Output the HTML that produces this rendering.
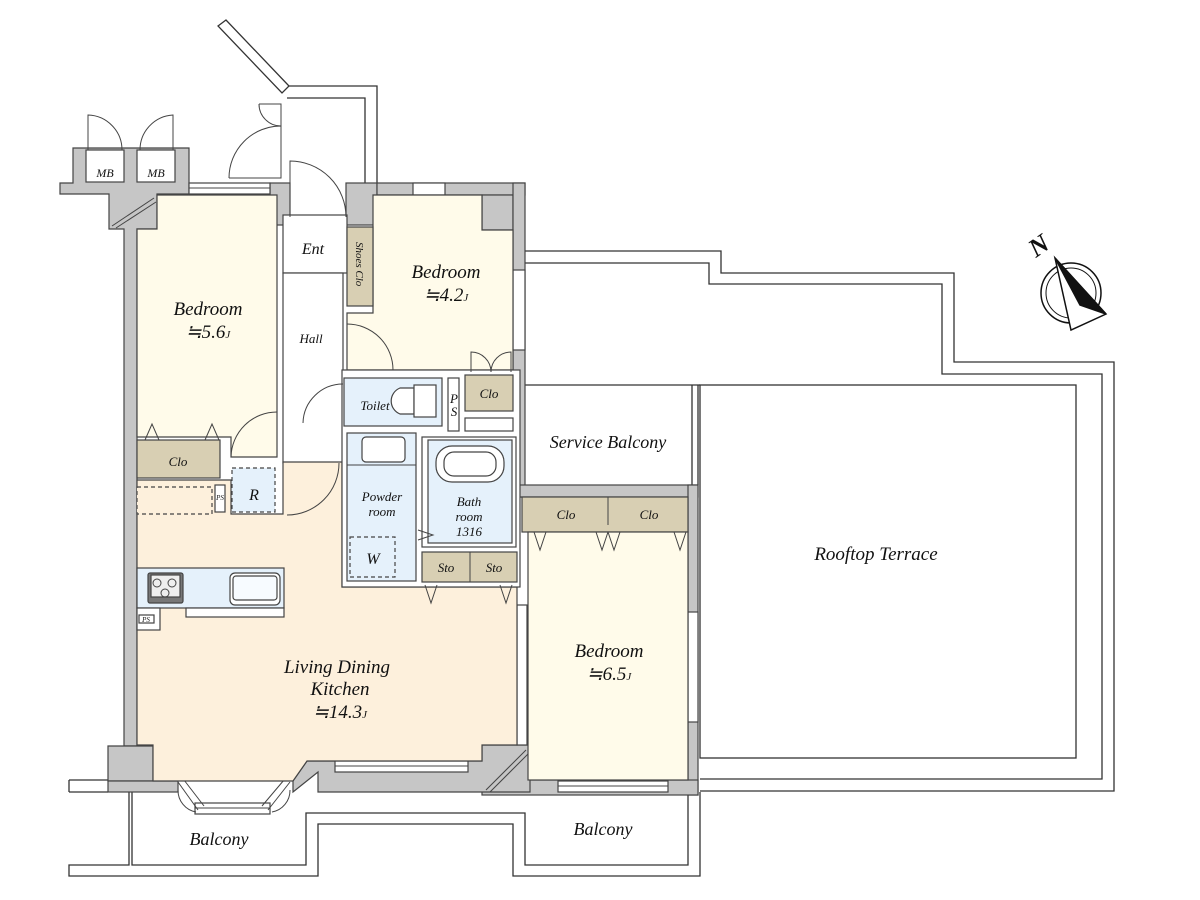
<!DOCTYPE html>
<html><head><meta charset="utf-8"><style>
html,body{margin:0;padding:0;background:#fff;}
svg{display:block;}
text{font-family:"Liberation Serif",serif;font-style:italic;fill:#111;}
</style></head><body>
<svg width="1200" height="900" viewBox="0 0 1200 900" xmlns="http://www.w3.org/2000/svg">
<g fill="none" stroke="#333" stroke-width="1.3">
<polyline points="525,251 721,251 721,273 954,273 954,362 1114,362 1114,791 700,791"/>
<polyline points="525,263 709,263 709,284 942,284 942,374 1102,374 1102,779 700,779"/>
<rect x="700" y="385" width="376" height="373"/>
<line x1="692" y1="385" x2="692" y2="485"/><line x1="698" y1="385" x2="698" y2="485"/>
<line x1="525" y1="385" x2="700" y2="385"/>
<polyline points="69,780 108,780"/><polyline points="69,792 108,792"/>
<line x1="69" y1="780" x2="69" y2="792"/>
<polyline points="129,792 129,865 69,865 69,876 318,876 318,824 513,824 513,876 700,876 700,792"/>
<polyline points="132,792 132,865 306,865 306,813 525,813 525,865 688,865 688,795"/>
<polygon points="218,26 226,20 289,86 282,93" fill="#fff"/>
<polyline points="289,86 377,86 377,183"/>
<polyline points="287,98 365,98 365,217 290,217"/>
</g>

<g fill="#c6c6c6" stroke="#444" stroke-width="1.2">
<polygon points="73,148 189,148 189,194 157,194 157,229 137,229 137,746 124,746 124,229 109,229 109,194 60,194 60,183 73,183"/>
<rect x="270" y="183" width="20" height="42"/>
<rect x="346" y="183" width="31" height="42"/>
<rect x="377" y="183" width="148" height="12"/>
<rect x="482" y="195" width="31" height="35"/>
<rect x="513" y="183" width="12" height="314"/>
<rect x="513" y="485" width="185" height="12"/>
<rect x="688" y="485" width="10" height="310"/>
<rect x="482" y="780" width="216" height="15"/>
<polygon points="108,746 153,746 153,781 108,781"/>
<rect x="108" y="781" width="70" height="11"/>
<polygon points="293,781 307,761 482,761 482,745 530,745 530,792 318,792 318,772 293,792"/>
</g>
<g fill="#fff" stroke="#444" stroke-width="1.2">
<rect x="86" y="150" width="38" height="32"/>
<rect x="137" y="150" width="38" height="32"/>
<rect x="189" y="183" width="81" height="11"/>
<rect x="413" y="183" width="32" height="12"/>
<rect x="335" y="761" width="133" height="11"/>
<rect x="558" y="781" width="110" height="11"/>
<rect x="195" y="803" width="75" height="11"/>
<rect x="513" y="270" width="12" height="80"/>
<rect x="688" y="612" width="10" height="110"/>
<rect x="517" y="605" width="10" height="140"/>
</g>
<g stroke="#444" stroke-width="1" fill="none">
<line x1="189" y1="188" x2="270" y2="188"/><line x1="335" y1="766" x2="468" y2="766"/>
<line x1="558" y1="786" x2="668" y2="786"/><line x1="195" y1="808" x2="270" y2="808"/>
<line x1="178" y1="782" x2="198" y2="810"/><line x1="184" y1="780" x2="204" y2="806"/>
<line x1="290" y1="782" x2="268" y2="810"/><line x1="284" y1="780" x2="262" y2="806"/>
<path d="M178,790 A22,22 0 0 0 196,812"/><path d="M290,790 A22,22 0 0 1 272,812"/>
<line x1="112" y1="226" x2="154" y2="198"/><line x1="116" y1="228" x2="156" y2="202"/>
<line x1="486" y1="790" x2="526" y2="750"/><line x1="490" y1="792" x2="528" y2="754"/>
</g>

<g stroke="#444" stroke-width="1.2">
<polygon points="137,229 157,229 157,195 277,195 277,457 231,457 231,437 137,437" fill="#fffbea"/>
<rect x="283" y="215" width="64" height="58" fill="#fff"/>
<rect x="283" y="273" width="60" height="190" fill="#fff"/>
<polygon points="373,195 482,195 482,230 513,230 513,370 347,370 347,313 373,313" fill="#fffbea"/>
<rect x="347" y="227" width="26" height="79" fill="#d8cfb3"/>
<polygon points="137,480 231,480 231,514 283,514 283,462 342,462 342,587 420,587 420,587 517,587 517,745 482,745 482,761 307,761 293,781 153,781 153,745 137,745" fill="#fdf0dc"/>
<rect x="342" y="370" width="178" height="217" fill="#fff"/>
<rect x="344" y="378" width="98" height="48" fill="#e5f1fb"/>
<rect x="448" y="378" width="11" height="53" fill="#fff"/>
<rect x="465" y="375" width="48" height="36" fill="#d8cfb3"/>
<rect x="465" y="418" width="48" height="13" fill="#fff"/>
<rect x="347" y="433" width="69" height="148" fill="#e5f1fb"/>
<rect x="422" y="437" width="94" height="110" fill="#fff"/>
<rect x="428" y="440" width="84" height="103" fill="#e5f1fb"/>
<rect x="422" y="552" width="95" height="30" fill="#d8cfb3"/>
<rect x="137" y="440" width="83" height="38" fill="#d8cfb3"/>
<rect x="232" y="468" width="43" height="44" fill="#e5f1fb" stroke-dasharray="4,3"/>
<rect x="215" y="485" width="10" height="27" fill="#fff"/>
<rect x="137" y="487" width="75" height="27" fill="#fdf0dc" stroke-dasharray="4,3"/>
<rect x="137" y="568" width="147" height="40" fill="#e5f1fb"/>
<rect x="186" y="608" width="98" height="9" fill="#fff"/>
<rect x="137" y="608" width="23" height="22" fill="#fff"/>
<rect x="139" y="615" width="15" height="8" fill="#fff"/>
<rect x="148" y="573" width="35" height="30" rx="2" fill="#777"/>
<rect x="151" y="575" width="29" height="22" fill="#eee"/>
<rect x="230" y="573" width="50" height="32" rx="5" fill="#fff"/>
<rect x="233" y="576" width="44" height="24" rx="3" fill="#f7fbff"/>
<rect x="522" y="497" width="166" height="35" fill="#d8cfb3"/>
<rect x="528" y="532" width="160" height="248" fill="#fffbea"/>
<rect x="350" y="537" width="45" height="40" fill="none" stroke-dasharray="4,3"/>
<rect x="362" y="437" width="43" height="25" rx="4" fill="#fff"/>
<rect x="436" y="446" width="68" height="36" rx="16" fill="#fff"/>
<rect x="444" y="452" width="52" height="24" rx="10" fill="#fff"/>
<path d="M400,388 a14,14 0 0 0 0,26 l14,0 0,-26z" fill="#fff"/>
<rect x="414" y="385" width="22" height="32" fill="#fff"/>
</g>
<g stroke="#444" stroke-width="1" fill="none">
<circle cx="157" cy="583" r="4"/><circle cx="172" cy="583" r="4"/><circle cx="165" cy="593" r="4"/>
<line x1="470" y1="552" x2="470" y2="582"/><line x1="608" y1="497" x2="608" y2="525"/>
<line x1="347" y1="465" x2="416" y2="465"/>
<path d="M88,150 L88,115 A35,35 0 0 1 122,150"/>
<path d="M173,150 L173,115 A35,35 0 0 0 140,150"/>
<path d="M229,178 L281,178 L281,126 A52,52 0 0 0 229,178"/>
<path d="M259,104 L281,104 L281,126 A22,22 0 0 1 259,104"/>
<path d="M290,217 L290,161 A56,56 0 0 1 346,217"/>
<path d="M277,412 A46,46 0 0 0 231,457"/>
<path d="M287,515 A52,52 0 0 0 339,463"/>
<path d="M303,423 A40,40 0 0 1 343,384"/>
<path d="M347,324 A46,46 0 0 1 393,370"/>
<path d="M471,372 L471,352 A20,20 0 0 1 491,372"/><path d="M511,372 L511,352 A20,20 0 0 0 491,372"/>
<path d="M145,440 L152,424 159,440"/><path d="M205,440 L212,424 219,440"/>
<path d="M534,532 L540,550 546,532"/><path d="M596,532 L602,550 608,532"/><path d="M608,532 L614,550 620,532"/><path d="M674,532 L680,550 686,532"/>
<path d="M425,585 L431,603 437,585"/><path d="M500,585 L506,603 512,585"/>
<path d="M418,530 L433,535 418,540"/>
</g>

<text x="105" y="177" font-size="12" text-anchor="middle">MB</text>
<text x="156" y="177" font-size="12" text-anchor="middle">MB</text>
<text x="313" y="254" font-size="16" text-anchor="middle">Ent</text>
<text x="311" y="343" font-size="13" text-anchor="middle">Hall</text>
<text x="208" y="315" font-size="19" text-anchor="middle">Bedroom</text>
<text x="208" y="338" font-size="19" text-anchor="middle">≒5.6<tspan font-size="11">J</tspan></text>
<text x="446" y="278" font-size="19" text-anchor="middle">Bedroom</text>
<text x="446" y="301" font-size="19" text-anchor="middle">≒4.2<tspan font-size="11">J</tspan></text>
<text transform="translate(356,242) rotate(90)" font-size="11">Shoes Clo</text>
<text x="375" y="410" font-size="13" text-anchor="middle">Toilet</text>
<text x="454" y="403" font-size="13" text-anchor="middle">P</text>
<text x="454" y="416" font-size="13" text-anchor="middle">S</text>
<text x="489" y="398" font-size="13" text-anchor="middle">Clo</text>
<text x="178" y="466" font-size="13" text-anchor="middle">Clo</text>
<text x="254" y="500" font-size="16" text-anchor="middle">R</text>
<text x="382" y="501" font-size="13" text-anchor="middle">Powder</text>
<text x="382" y="516" font-size="13" text-anchor="middle">room</text>
<text x="373" y="564" font-size="16" text-anchor="middle">W</text>
<text x="469" y="506" font-size="13" text-anchor="middle">Bath</text>
<text x="469" y="521" font-size="13" text-anchor="middle">room</text>
<text x="469" y="536" font-size="13" text-anchor="middle">1316</text>
<text x="446" y="572" font-size="13" text-anchor="middle">Sto</text>
<text x="494" y="572" font-size="13" text-anchor="middle">Sto</text>
<text x="566" y="519" font-size="13" text-anchor="middle">Clo</text>
<text x="649" y="519" font-size="13" text-anchor="middle">Clo</text>
<text x="608" y="448" font-size="18" text-anchor="middle">Service Balcony</text>
<text x="876" y="560" font-size="19" text-anchor="middle">Rooftop Terrace</text>
<text x="609" y="657" font-size="19" text-anchor="middle">Bedroom</text>
<text x="609" y="680" font-size="19" text-anchor="middle">≒6.5<tspan font-size="11">J</tspan></text>
<text x="337" y="673" font-size="19" text-anchor="middle">Living Dining</text>
<text x="340" y="695" font-size="19" text-anchor="middle">Kitchen</text>
<text x="340" y="718" font-size="19" text-anchor="middle">≒14.3<tspan font-size="11">J</tspan></text>
<text x="219" y="845" font-size="18" text-anchor="middle">Balcony</text>
<text x="603" y="835" font-size="18" text-anchor="middle">Balcony</text>
<text x="146" y="622" font-size="7" text-anchor="middle">PS</text>
<text x="220" y="500" font-size="7" text-anchor="middle">PS</text>

<g stroke="#111" stroke-width="1.5">
<circle cx="1071" cy="293" r="30" fill="#fff"/>
<circle cx="1071" cy="293" r="25" fill="#fff" stroke-width="1"/>
<polygon points="1055,258 1106,314 1071,330" fill="#fff"/>
<polygon points="1055,258 1106,314 1080,305" fill="#111"/>
</g>
<text transform="translate(1036,258) rotate(-35)" font-size="26" font-weight="bold" font-style="normal">N</text>
</svg>
</body></html>
